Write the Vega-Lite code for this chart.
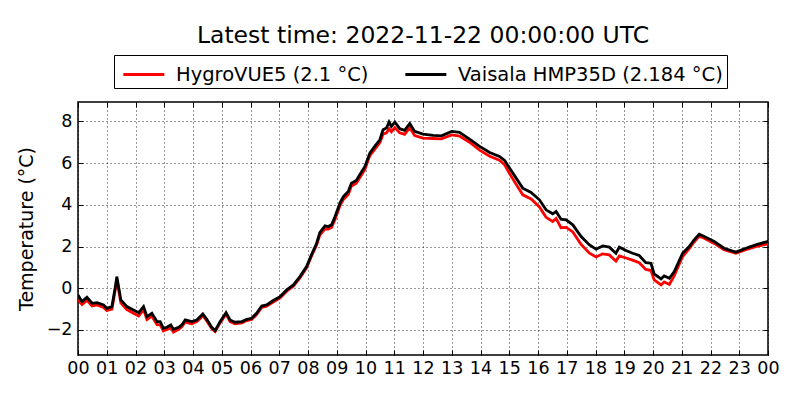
{
  "$schema": "https://vega.github.io/schema/vega-lite/v6.json",
  "width": 690,
  "height": 253,
  "autosize": {"type": "none"},
  "padding": {"left": 78, "top": 102, "right": 32, "bottom": 45},
  "background": "white",
  "title": {"text": "Latest time: 2022-11-22 00:00:00 UTC", "fontSize": 23.5, "font": "DejaVu Sans", "fontWeight": "normal", "color": "black", "anchor": "middle", "offset": 7},
  "data": {"values": [
    {"h":0.00,"HygroVUE5":-0.55,"Vaisala HMP35D":-0.32},
    {"h":0.14,"HygroVUE5":-0.78,"Vaisala HMP35D":-0.64},
    {"h":0.31,"HygroVUE5":-0.58,"Vaisala HMP35D":-0.43},
    {"h":0.49,"HygroVUE5":-0.85,"Vaisala HMP35D":-0.72},
    {"h":0.66,"HygroVUE5":-0.80,"Vaisala HMP35D":-0.69},
    {"h":0.89,"HygroVUE5":-0.92,"Vaisala HMP35D":-0.80},
    {"h":1.00,"HygroVUE5":-1.06,"Vaisala HMP35D":-0.96},
    {"h":1.18,"HygroVUE5":-1.00,"Vaisala HMP35D":-0.88},
    {"h":1.30,"HygroVUE5":-0.05,"Vaisala HMP35D":0.08},
    {"h":1.35,"HygroVUE5":0.45,"Vaisala HMP35D":0.56},
    {"h":1.41,"HygroVUE5":-0.05,"Vaisala HMP35D":0.08},
    {"h":1.49,"HygroVUE5":-0.70,"Vaisala HMP35D":-0.56},
    {"h":1.70,"HygroVUE5":-1.02,"Vaisala HMP35D":-0.88},
    {"h":1.93,"HygroVUE5":-1.20,"Vaisala HMP35D":-1.04},
    {"h":2.11,"HygroVUE5":-1.33,"Vaisala HMP35D":-1.17},
    {"h":2.28,"HygroVUE5":-1.02,"Vaisala HMP35D":-0.88},
    {"h":2.40,"HygroVUE5":-1.50,"Vaisala HMP35D":-1.36},
    {"h":2.57,"HygroVUE5":-1.34,"Vaisala HMP35D":-1.20},
    {"h":2.75,"HygroVUE5":-1.74,"Vaisala HMP35D":-1.60},
    {"h":2.86,"HygroVUE5":-1.75,"Vaisala HMP35D":-1.60},
    {"h":2.97,"HygroVUE5":-2.05,"Vaisala HMP35D":-1.92},
    {"h":3.09,"HygroVUE5":-1.98,"Vaisala HMP35D":-1.87},
    {"h":3.23,"HygroVUE5":-1.90,"Vaisala HMP35D":-1.76},
    {"h":3.32,"HygroVUE5":-2.10,"Vaisala HMP35D":-1.97},
    {"h":3.50,"HygroVUE5":-1.97,"Vaisala HMP35D":-1.87},
    {"h":3.61,"HygroVUE5":-1.85,"Vaisala HMP35D":-1.76},
    {"h":3.73,"HygroVUE5":-1.62,"Vaisala HMP35D":-1.52},
    {"h":3.96,"HygroVUE5":-1.70,"Vaisala HMP35D":-1.60},
    {"h":4.13,"HygroVUE5":-1.60,"Vaisala HMP35D":-1.52},
    {"h":4.25,"HygroVUE5":-1.45,"Vaisala HMP35D":-1.36},
    {"h":4.34,"HygroVUE5":-1.30,"Vaisala HMP35D":-1.23},
    {"h":4.48,"HygroVUE5":-1.57,"Vaisala HMP35D":-1.49},
    {"h":4.65,"HygroVUE5":-1.93,"Vaisala HMP35D":-1.87},
    {"h":4.77,"HygroVUE5":-2.08,"Vaisala HMP35D":-2.03},
    {"h":4.94,"HygroVUE5":-1.66,"Vaisala HMP35D":-1.60},
    {"h":5.15,"HygroVUE5":-1.24,"Vaisala HMP35D":-1.17},
    {"h":5.29,"HygroVUE5":-1.60,"Vaisala HMP35D":-1.52},
    {"h":5.46,"HygroVUE5":-1.70,"Vaisala HMP35D":-1.63},
    {"h":5.70,"HygroVUE5":-1.66,"Vaisala HMP35D":-1.60},
    {"h":5.87,"HygroVUE5":-1.55,"Vaisala HMP35D":-1.49},
    {"h":6.04,"HygroVUE5":-1.50,"Vaisala HMP35D":-1.44},
    {"h":6.21,"HygroVUE5":-1.26,"Vaisala HMP35D":-1.20},
    {"h":6.39,"HygroVUE5":-0.92,"Vaisala HMP35D":-0.85},
    {"h":6.56,"HygroVUE5":-0.86,"Vaisala HMP35D":-0.80},
    {"h":6.79,"HygroVUE5":-0.66,"Vaisala HMP35D":-0.59},
    {"h":7.03,"HygroVUE5":-0.46,"Vaisala HMP35D":-0.40},
    {"h":7.26,"HygroVUE5":-0.14,"Vaisala HMP35D":-0.08},
    {"h":7.49,"HygroVUE5":0.10,"Vaisala HMP35D":0.16},
    {"h":7.72,"HygroVUE5":0.50,"Vaisala HMP35D":0.56},
    {"h":7.95,"HygroVUE5":0.98,"Vaisala HMP35D":1.04},
    {"h":8.12,"HygroVUE5":1.54,"Vaisala HMP35D":1.60},
    {"h":8.30,"HygroVUE5":2.08,"Vaisala HMP35D":2.16},
    {"h":8.41,"HygroVUE5":2.55,"Vaisala HMP35D":2.67},
    {"h":8.59,"HygroVUE5":2.85,"Vaisala HMP35D":2.99},
    {"h":8.70,"HygroVUE5":2.84,"Vaisala HMP35D":2.96},
    {"h":8.82,"HygroVUE5":2.92,"Vaisala HMP35D":3.04},
    {"h":8.94,"HygroVUE5":3.30,"Vaisala HMP35D":3.44},
    {"h":9.11,"HygroVUE5":3.95,"Vaisala HMP35D":4.08},
    {"h":9.23,"HygroVUE5":4.26,"Vaisala HMP35D":4.40},
    {"h":9.40,"HygroVUE5":4.50,"Vaisala HMP35D":4.64},
    {"h":9.51,"HygroVUE5":4.90,"Vaisala HMP35D":5.04},
    {"h":9.68,"HygroVUE5":5.04,"Vaisala HMP35D":5.17},
    {"h":9.80,"HygroVUE5":5.30,"Vaisala HMP35D":5.44},
    {"h":9.98,"HygroVUE5":5.70,"Vaisala HMP35D":5.84},
    {"h":10.15,"HygroVUE5":6.36,"Vaisala HMP35D":6.48},
    {"h":10.32,"HygroVUE5":6.66,"Vaisala HMP35D":6.80},
    {"h":10.50,"HygroVUE5":6.98,"Vaisala HMP35D":7.12},
    {"h":10.61,"HygroVUE5":7.38,"Vaisala HMP35D":7.60},
    {"h":10.73,"HygroVUE5":7.45,"Vaisala HMP35D":7.68},
    {"h":10.82,"HygroVUE5":7.65,"Vaisala HMP35D":7.97},
    {"h":10.90,"HygroVUE5":7.50,"Vaisala HMP35D":7.76},
    {"h":11.02,"HygroVUE5":7.70,"Vaisala HMP35D":7.97},
    {"h":11.19,"HygroVUE5":7.45,"Vaisala HMP35D":7.65},
    {"h":11.36,"HygroVUE5":7.38,"Vaisala HMP35D":7.57},
    {"h":11.54,"HygroVUE5":7.70,"Vaisala HMP35D":7.90},
    {"h":11.71,"HygroVUE5":7.32,"Vaisala HMP35D":7.52},
    {"h":12.00,"HygroVUE5":7.20,"Vaisala HMP35D":7.39},
    {"h":12.35,"HygroVUE5":7.18,"Vaisala HMP35D":7.33},
    {"h":12.64,"HygroVUE5":7.16,"Vaisala HMP35D":7.31},
    {"h":13.00,"HygroVUE5":7.35,"Vaisala HMP35D":7.52},
    {"h":13.27,"HygroVUE5":7.30,"Vaisala HMP35D":7.47},
    {"h":13.62,"HygroVUE5":7.00,"Vaisala HMP35D":7.15},
    {"h":13.97,"HygroVUE5":6.62,"Vaisala HMP35D":6.80},
    {"h":14.32,"HygroVUE5":6.33,"Vaisala HMP35D":6.51},
    {"h":14.66,"HygroVUE5":6.14,"Vaisala HMP35D":6.32},
    {"h":14.84,"HygroVUE5":5.92,"Vaisala HMP35D":6.13},
    {"h":15.01,"HygroVUE5":5.50,"Vaisala HMP35D":5.76},
    {"h":15.24,"HygroVUE5":4.98,"Vaisala HMP35D":5.28},
    {"h":15.47,"HygroVUE5":4.48,"Vaisala HMP35D":4.80},
    {"h":15.76,"HygroVUE5":4.28,"Vaisala HMP35D":4.59},
    {"h":16.05,"HygroVUE5":3.90,"Vaisala HMP35D":4.24},
    {"h":16.28,"HygroVUE5":3.40,"Vaisala HMP35D":3.76},
    {"h":16.51,"HygroVUE5":3.20,"Vaisala HMP35D":3.57},
    {"h":16.63,"HygroVUE5":3.35,"Vaisala HMP35D":3.68},
    {"h":16.80,"HygroVUE5":2.90,"Vaisala HMP35D":3.31},
    {"h":16.98,"HygroVUE5":2.92,"Vaisala HMP35D":3.28},
    {"h":17.21,"HygroVUE5":2.70,"Vaisala HMP35D":3.04},
    {"h":17.50,"HygroVUE5":2.10,"Vaisala HMP35D":2.48},
    {"h":17.79,"HygroVUE5":1.68,"Vaisala HMP35D":2.08},
    {"h":18.02,"HygroVUE5":1.50,"Vaisala HMP35D":1.87},
    {"h":18.25,"HygroVUE5":1.65,"Vaisala HMP35D":2.03},
    {"h":18.48,"HygroVUE5":1.60,"Vaisala HMP35D":1.97},
    {"h":18.71,"HygroVUE5":1.30,"Vaisala HMP35D":1.68},
    {"h":18.83,"HygroVUE5":1.55,"Vaisala HMP35D":1.97},
    {"h":19.06,"HygroVUE5":1.45,"Vaisala HMP35D":1.81},
    {"h":19.29,"HygroVUE5":1.35,"Vaisala HMP35D":1.68},
    {"h":19.52,"HygroVUE5":1.22,"Vaisala HMP35D":1.57},
    {"h":19.75,"HygroVUE5":0.90,"Vaisala HMP35D":1.23},
    {"h":19.93,"HygroVUE5":0.85,"Vaisala HMP35D":1.20},
    {"h":20.04,"HygroVUE5":0.40,"Vaisala HMP35D":0.69},
    {"h":20.28,"HygroVUE5":0.16,"Vaisala HMP35D":0.45},
    {"h":20.39,"HygroVUE5":0.30,"Vaisala HMP35D":0.59},
    {"h":20.57,"HygroVUE5":0.18,"Vaisala HMP35D":0.48},
    {"h":20.74,"HygroVUE5":0.60,"Vaisala HMP35D":0.80},
    {"h":21.03,"HygroVUE5":1.52,"Vaisala HMP35D":1.68},
    {"h":21.26,"HygroVUE5":1.90,"Vaisala HMP35D":2.00},
    {"h":21.43,"HygroVUE5":2.22,"Vaisala HMP35D":2.32},
    {"h":21.61,"HygroVUE5":2.50,"Vaisala HMP35D":2.59},
    {"h":21.78,"HygroVUE5":2.40,"Vaisala HMP35D":2.48},
    {"h":22.13,"HygroVUE5":2.15,"Vaisala HMP35D":2.24},
    {"h":22.47,"HygroVUE5":1.85,"Vaisala HMP35D":1.92},
    {"h":22.88,"HygroVUE5":1.68,"Vaisala HMP35D":1.73},
    {"h":23.23,"HygroVUE5":1.85,"Vaisala HMP35D":1.92},
    {"h":23.57,"HygroVUE5":2.00,"Vaisala HMP35D":2.08},
    {"h":23.98,"HygroVUE5":2.12,"Vaisala HMP35D":2.24},
    {"h":24.00,"HygroVUE5":2.10,"Vaisala HMP35D":2.18}
  ]},
  "transform": [{"fold": ["HygroVUE5", "Vaisala HMP35D"], "as": ["sensor", "temp"]}],
  "layer": [
    {
      "mark": {"type": "line", "strokeWidth": 2.8, "clip": true},
      "encoding": {
        "x": {"field": "h", "type": "quantitative",
          "scale": {"domain": [0, 24], "nice": false, "zero": false},
          "axis": {"title": null, "values": [0,1,2,3,4,5,6,7,8,9,10,11,12,13,14,15,16,17,18,19,20,21,22,23,24],
            "labelOverlap": false, "labelFlush": false, "labelBound": false,
            "labelExpr": "datum.value == 24 ? '00' : (datum.value < 10 ? '0' + datum.value : '' + datum.value)"}},
        "y": {"field": "temp", "type": "quantitative",
          "scale": {"domain": [-3.2, 8.93], "nice": false, "zero": false},
          "axis": {"title": "Temperature (°C)", "values": [-2,0,2,4,6,8], "labelOverlap": false, "labelFlush": false,
            "labelExpr": "replace(datum.label, '-', '\u2212')", "titlePadding": 10}},
        "color": {"field": "sensor", "type": "nominal",
          "scale": {"domain": ["HygroVUE5", "Vaisala HMP35D"], "range": ["#ff0000", "#000000"]},
          "legend": {"title": null, "orient": "none", "legendX": 36, "legendY": -47, "direction": "horizontal",
            "labelExpr": "datum.label == 'HygroVUE5' ? 'HygroVUE5 (2.1 °C)' : 'Vaisala HMP35D (2.184 °C)\u00a0\u00a0'",
            "symbolType": "M-0.733,0H2.227", "symbolSize": 767, "symbolStrokeWidth": 2.8,
            "labelFontSize": 19.5, "labelFont": "DejaVu Sans", "labelColor": "black", "labelOffset": 27, "labelLimit": 0,
            "columnPadding": 30, "padding": 4, "strokeColor": "black", "fillColor": "white", "cornerRadius": 0}}
      }
    },
    {
      "mark": {"type": "line", "opacity": 0, "clip": true},
      "encoding": {
        "x": {"field": "h", "type": "quantitative",
          "axis": {"orient": "top", "title": null, "labels": false, "grid": false,
            "values": [0,1,2,3,4,5,6,7,8,9,10,11,12,13,14,15,16,17,18,19,20,21,22,23,24]}},
        "y": {"field": "temp", "type": "quantitative",
          "axis": {"orient": "right", "title": null, "labels": false, "grid": false, "values": [-2,0,2,4,6,8]}}
      }
    }
  ],
  "resolve": {"axis": {"x": "independent", "y": "independent"}},
  "config": {
    "view": {"stroke": "black", "strokeWidth": 1.5},
    "axis": {"labelFont": "DejaVu Sans", "labelFontSize": 17.5, "labelColor": "black",
      "titleFont": "DejaVu Sans", "titleFontSize": 19, "titleFontWeight": "normal", "titleColor": "black",
      "domain": false, "grid": true, "gridColor": "black", "gridDash": [1, 3], "gridOpacity": 0.8, "gridWidth": 1,
      "ticks": true, "tickColor": "black", "tickSize": -5, "tickWidth": 1, "labelPadding": 10},
    "axisX": {"labelPadding": 9},
    "axisY": {"labelPadding": 11}
  }
}
